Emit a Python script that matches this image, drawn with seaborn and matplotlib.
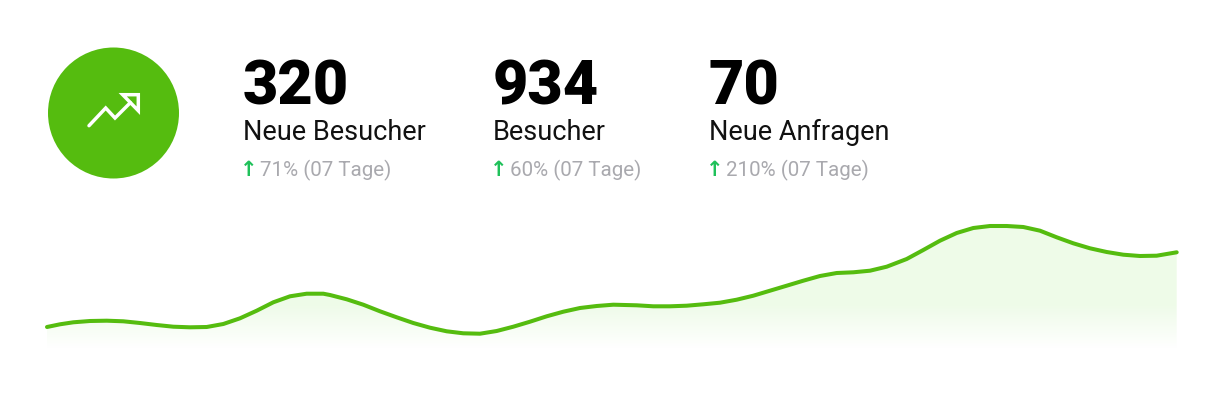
import numpy as np
import pandas as pd
import matplotlib.pyplot as plt
import seaborn as sns
from matplotlib.patches import Circle, Polygon

# kpi row
numbers = ['320', '934', '70']
labels = ['Neue Besucher', 'Besucher', 'Neue Anfragen']
changes = ['71% (07 Tage)', '60% (07 Tage)', '210% (07 Tage)']

# curve
day = [47, 60, 73.3, 90, 106.7, 123.3, 140, 156.7, 173.3, 190, 206.7, 223.3, 240, 256.7, 273.3,
       290, 306.7, 323.3, 330, 346.7, 363.3, 380, 396.7, 413.3, 430, 446.7, 463.3, 480, 496.7,
       513.3, 530, 546.7, 563.3, 580, 596.7, 613.3, 636.7, 653.3, 670, 686.7, 703.3, 720, 736.7,
       753.3, 770, 786.7, 803.3, 820, 836.7, 853.3, 870, 886.7, 906.7, 923.3, 940, 956.7, 973.3,
       990, 1006.7, 1023.3, 1040, 1056.7, 1073.3, 1090, 1106.7, 1123.3, 1140, 1156.7, 1176.7]
visits = [22, 24.7, 26.7, 28, 28.3, 27.7, 26, 24, 22.3, 21.7, 22, 25, 30.7, 38.3, 46.7,
          52.7, 55.3, 55.3, 54, 49.7, 44.3, 37.7, 31.7, 26, 21.3, 17.7, 15.7, 15.3, 18,
          22.3, 27.3, 32.7, 37.3, 41, 43, 44.3, 43.7, 42.7, 42.7, 43.3, 44.7, 46.3, 49.3,
          53.3, 58.3, 63.3, 68.3, 73, 76, 76.7, 78.3, 82.3, 90, 99, 108.3, 116, 121,
          123, 123, 122, 118.3, 111.7, 105.7, 100.7, 97, 94.3, 93, 93.3, 96.7]

GREEN = '#55bc0f'
W, H = 1224, 414
BASE = 350

sns.set_theme(style='white')
plt.rcParams['font.family'] = ['Roboto', 'DejaVu Sans']

fig = plt.figure(figsize=(W / 100, H / 100), dpi=100)
fig.patch.set_facecolor('white')

# curve axes, spans the whole figure so 1 unit = 1 px
ax = fig.add_axes([0, 0, 1, 1])
data = pd.DataFrame({'day': day, 'visits': visits})
sns.lineplot(data=data, x='day', y='visits', color=GREEN, lw=2.9, ax=ax,
             solid_capstyle='round', solid_joinstyle='round', zorder=3)

# soft fill under the curve
area = ax.fill_between(day, visits, 0, color='none')
grad = np.ones((125, 2, 4))
grad[..., 0] = 0.937
grad[..., 1] = 0.988
grad[..., 2] = 0.91
grad[..., 3] = np.clip(np.linspace(1.0, 0.0, 125) / 0.36, 0, 1)[:, None]
img = ax.imshow(grad, extent=[day[0], day[-1], 0, 125], origin='upper', aspect='auto', zorder=2)
img.set_clip_path(area.get_paths()[0], transform=ax.transData)
ax.set_xlim(0, W)
ax.set_ylim(BASE - H, BASE)
ax.axis('off')

# overlay in image pixels for the header
top = fig.add_axes([0, 0, 1, 1])
top.set_xlim(0, W)
top.set_ylim(H, 0)
top.axis('off')
top.patch.set_alpha(0)

# icon
top.add_patch(Circle((113.5, 114), 65.5, color=GREEN, lw=0))
top.plot([89, 105.7, 115, 130.3], [126.7, 109, 119, 103.7], color='white', lw=2.5,
         solid_capstyle='round', solid_joinstyle='miter')
top.add_patch(Polygon([(122.7, 95.7), (138.3, 95.7), (138.3, 111.7)], closed=True,
                      fill=False, edgecolor='white', lw=2.5, joinstyle='miter'))

xs = [243, 493, 709]
for x, num, lab, chg in zip(xs, numbers, labels, changes):
    top.text(x, 105, num, fontsize=44, fontweight='black', color='black', va='baseline')
    top.text(x, 140, lab, fontsize=19.5, color='#111111', va='baseline')
    top.text(x - 3, 176, '\u2191', fontsize=15, fontweight='bold', color='#1fc15a', va='baseline',
             family=['DejaVu Sans'])
    top.text(x + 17, 176, chg, fontsize=14.8, color='#a9a9ae', va='baseline')

fig.savefig('out.png', dpi=100, facecolor='white')
